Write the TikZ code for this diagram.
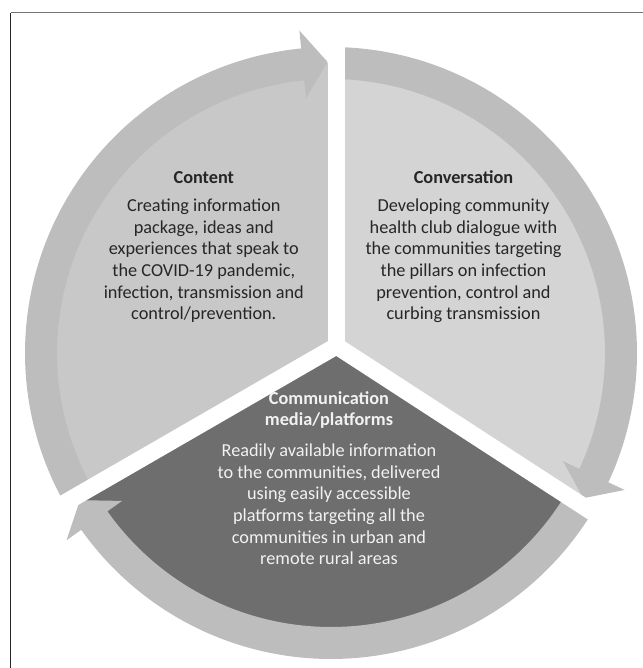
\documentclass[tikz,border=0pt]{standalone}
\usepackage{fontspec}
\setmainfont{Carlito}
\usetikzlibrary{calc}
\definecolor{anel}{HTML}{BDBDBD}
\definecolor{conteudo}{HTML}{C8C8C8}
\definecolor{conversa}{HTML}{D4D4D4}
\definecolor{meio}{HTML}{6E6E6E}
\definecolor{letra}{HTML}{262626}
\definecolor{letraclara}{HTML}{F2F2F2}

\begin{document}
\begin{tikzpicture}[x=0.03cm, y=0.03cm,
    rotulo/.style={align=center, font=\fontsize{15.6}{18.5}\selectfont, inner sep=0pt},
    vao/.style={white, line width=14.5pt}]
    \useasboundingbox (0,0) rectangle (643,668);
    \coordinate (C) at (331,315);
    \coordinate (J) at (336.5,322);
    % Setores
    \begin{scope}
        \clip (C) circle (290);
        \foreach \a/\m/\e/\cor in {90/150/210/conteudo, -33/28.5/90/conversa, 210/268.5/327/meio}
            \fill[\cor] (J) -- ($(J)+(\a:600)$) -- ($(J)+(\m:600)$) -- ($(J)+(\e:600)$) -- cycle;
    \end{scope}
    % Setas
    \foreach \s/\b in {209.4/95.6, 88.9/-25, 328.7/215.3}
        \fill[anel] ($(C)+(\s:306)$) arc[start angle=\s, end angle=\b, radius=306]
            -- ($(C)+(\b:324)$) -- ($(C)+(\b:290)+({\b-90}:25)$)
            -- ($(C)+(\b:256)$) -- ($(C)+(\b:274)$)
            arc[start angle=\b, end angle=\s, radius=274] -- cycle;
    % Vaos
    \fill[white] (J) circle (8.5);
    \foreach \a in {90,210,327}
        \draw[vao] (J) -- ++(\a:345);
    % Textos
    \node[rotulo, text=letra, anchor=base] (txtConteudo) at (203.8,348) {\textbf{Content}\\[5.4pt]
        Creating information\\package, ideas and\\experiences that speak to\\the COVID-19 pandemic,\\infection, transmission and\\control/prevention.};
    \node[rotulo, text=letra, anchor=base] (txtConversa) at (463.5,348) {\textbf{Conversation}\\[5.4pt]
        Developing community\\health club dialogue with\\the communities targeting\\the pillars on infection\\prevention, control and\\curbing transmission};
    \node[rotulo, text=letraclara, anchor=base] (txtMeio) at (329,103) {\textbf{Communication}\\\textbf{media/platforms}\\[7.7pt]
        Readily available information\\to the communities, delivered\\using easily accessible\\platforms targeting all the\\communities in urban and\\remote rural areas};
    % Moldura
    \draw[black!85, line width=0.9pt] (10.5,0) -- (10.5,655.3);
    \draw[black!55, line width=1.1pt] (10.5,655.3) -- (643,655.3);
\end{tikzpicture}
\end{document}
